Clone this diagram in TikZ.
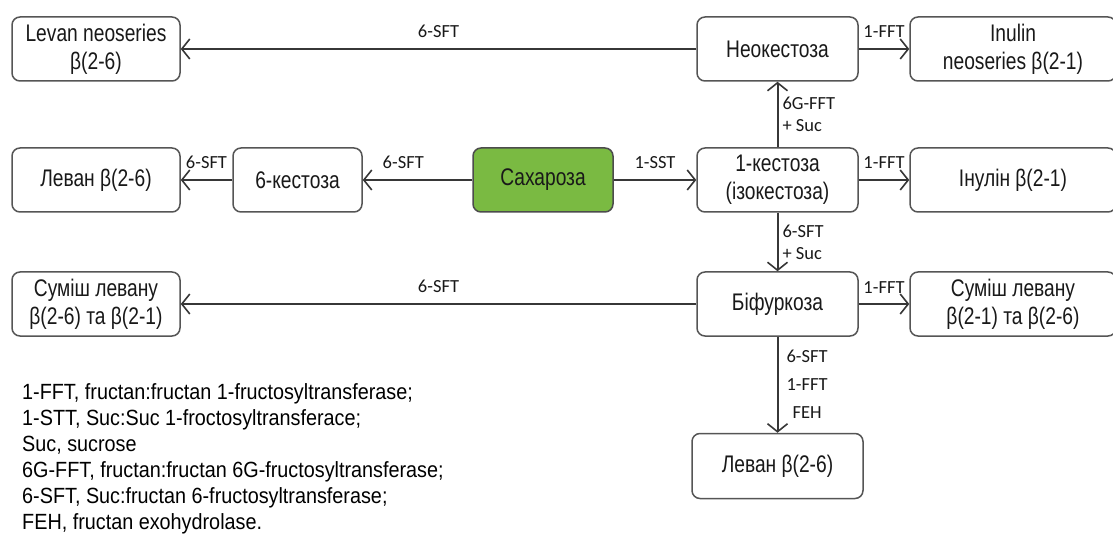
\documentclass[tikz,border=0pt]{standalone}
\usepackage{fontspec}
\setmainfont{Liberation Sans}[FakeStretch=0.8]
\newfontfamily\lblfont{Carlito}
\newfontfamily\legfont{Liberation Sans}[FakeStretch=0.9]
\usetikzlibrary{arrows.meta}
\definecolor{linegray}{RGB}{55,55,55}
\definecolor{boxgray}{RGB}{85,85,85}
\definecolor{sucgreen}{RGB}{122,186,66}

\begin{document}
\begin{tikzpicture}[x=1pt,y=-1pt,
		box/.style={draw=boxgray, line width=1.5pt, rounded corners=8pt, fill=white, minimum height=64pt, align=center, text=black!90, font=\fontsize{24}{28}\selectfont, inner sep=0pt},
		lbl/.style={font=\lblfont\fontsize{18.5}{22}\selectfont, text=black!90, inner sep=2pt},
		arr/.style={draw=linegray, line width=2pt, -{Straight Barb[length=8pt,width=20pt,line width=1.6pt]}}]
		\useasboundingbox (0,0) rectangle (1113,553);
		
		% top row
		\node[box, minimum width=168pt] (lneo) at (96,49) {Levan neoseries\\β(2-6)};
		\node[box, minimum width=161pt] (neok) at (777.5,49) {Неокестоза};
		\node[box, minimum width=206pt] (ineo) at (1013,49) {Inulin\\neoseries β(2-1)};
		
		% middle row
		\node[box, minimum width=168pt] (lev) at (96,180) {Леван β(2-6)};
		\node[box, minimum width=129pt] (kest6) at (297.5,180) {6-кестоза};
		\node[box, minimum width=140pt, fill=sucgreen, draw=black!70] (sach) at (543,180) {Сахароза};
		\node[box, minimum width=161pt] (kest1) at (777.5,180) {1-кестоза\\(ізокестоза)};
		\node[box, minimum width=206pt] (inul) at (1013,180) {Інулін β(2-1)};
		
		% lower row
		\node[box, minimum width=168pt] (sumA) at (96,304) {Суміш левану\\β(2-6) та β(2-1)};
		\node[box, minimum width=161pt] (bif) at (777.5,304) {Біфуркоза};
		\node[box, minimum width=206pt] (sumB) at (1013,304) {Суміш левану\\β(2-1) та β(2-6)};
		\node[box, minimum width=171pt, minimum height=65pt] (levB) at (777.5,466) {Леван β(2-6)};
		
		% arrows
		\draw[arr] (neok) -- node[lbl, above=8pt] {6-SFT} (lneo);
		\draw[arr] (neok) -- node[lbl, above=8pt] {1-FFT} (ineo);
		\draw[arr] (kest1) -- node[lbl, right=2pt, align=left] {6G-FFT\\+ Suc} (neok);
		\draw[arr] (kest6) -- node[lbl, above=8pt] {6-SFT} (lev);
		\draw[arr] (sach) -- node[lbl, above=8pt, pos=0.63] {6-SFT} (kest6);
		\draw[arr] (sach) -- node[lbl, above=8pt] {1-SST} (kest1);
		\draw[arr] (kest1) -- node[lbl, above=8pt] {1-FFT} (inul);
		\draw[arr] (kest1) -- node[lbl, right=2pt, align=left] {6-SFT\\+ Suc} (bif);
		\draw[arr] (bif) -- node[lbl, above=8pt] {6-SFT} (sumA);
		\draw[arr] (bif) -- node[lbl, above=8pt] {1-FFT} (sumB);
		\draw[arr] (bif) -- node[lbl, right=6pt, align=center] {6-SFT\\[6pt]1-FFT\\[6pt]FEH} (levB);
		
		% legend
		\node[anchor=north west, align=left, inner sep=0pt, text=black, font=\legfont\fontsize{22}{26}\selectfont] (legend) at (22,383) {1-FFT, fructan:fructan 1-fructosyltransferase;\\1-STT, Suc:Suc 1-froctosyltransferace;\\Suc, sucrose\\6G-FFT, fructan:fructan 6G-fructosyltransferase;\\6-SFT, Suc:fructan 6-fructosyltransferase;\\FEH, fructan exohydrolase.};
	\end{tikzpicture}
\end{document}
